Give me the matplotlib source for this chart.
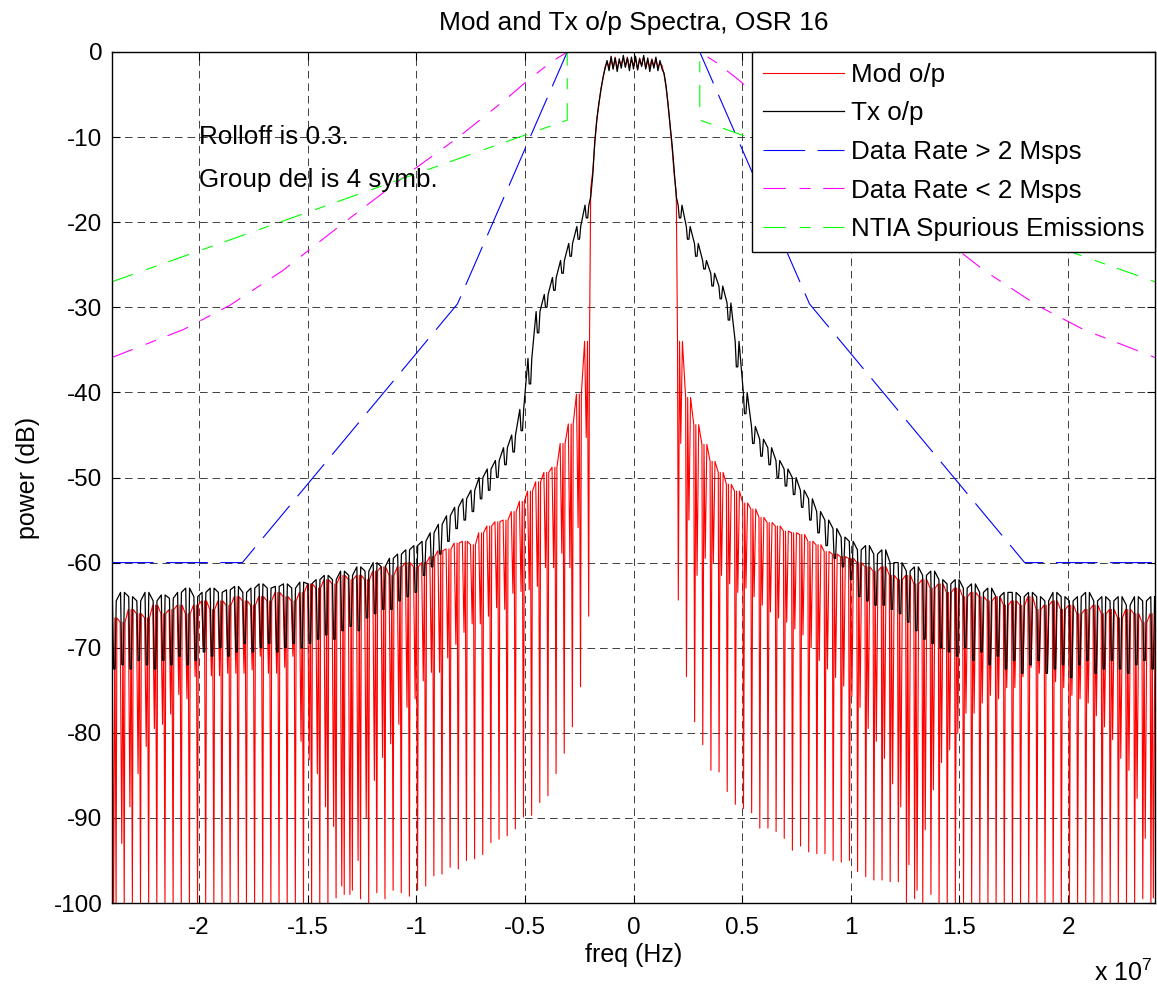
import numpy as np
import matplotlib
matplotlib.use('Agg')
import matplotlib.pyplot as plt

plt.rcParams['font.family'] = 'Liberation Sans'
plt.rcParams['font.size'] = 18.5
plt.rcParams['mathtext.default'] = 'regular'
plt.rcParams['lines.scale_dashes'] = False
plt.rcParams['axes.unicode_minus'] = False

# comb of spectral lines every 375 kHz, centred on (k + 0.5) * spacing
SPACING = 0.375e6
k_left = np.arange(-64, -5)    # -23.81 MHz ... -2.06 MHz
k_right = np.arange(5, 64)     #  2.06 MHz ... 23.81 MHz

# ---- Mod o/p (red), left side, outer -> inner ----
red_peak_left = [-66.5, -67.0, -65.5, -66.0, -66.5, -65.0, -66.0, -65.5, -65.0, -66.0,
                 -65.0, -64.5, -65.5, -64.5, -65.0, -64.0, -64.5, -65.0, -64.0, -64.5,
                 -63.5, -64.0, -64.5, -63.5, -62.5, -63.0, -62.0, -62.5, -61.5, -62.0,
                 -61.5, -62.0, -61.0, -60.5, -61.5, -60.5, -60.0, -60.5,
                 -60.0, -59.3, -58.6, -58.4, -57.7, -57.5, -57.9, -56.5, -55.7, -55.2,
                 -55.0, -54.0, -52.8, -51.6, -50.5, -49.4, -48.8, -46.0, -43.7, -40.2, -34.0]
red_mid_left = [-100.0, -93.0, -88.7, -84.8, -81.6, -79.5, -79.0, -77.8, -75.5, -76.0,
                -73.4, -69.9, -73.3, -73.3, -73.0, -73.0, -73.0, -72.6, -71.0, -73.0,
                -73.0, -72.3, -71.0, -81.0, -83.2, -84.8, -88.7, -91.0, -98.0, -99.0,
                -95.0,
                -90.0, -85.6, -82.9, -81.3, -79.0, -77.0, -76.0, -73.9, -72.9, -72.9,
                -71.2, -69.6, -68.2, -67.2, -67.2, -66.3, -65.3, -65.5, -63.6, -63.4,
                -63.2, -62.8, -60.6, -60.6, -58.9, -60.6, -55.9, -45.3]
red_deep_left = [-100.0, -100.0, -100.0, -100.0, -100.0, -100.0, -100.0, -100.0, -100.0, -100.0,
                 -100.0, -100.0, -100.0, -100.0, -100.0, -100.0, -100.0, -100.0, -100.0, -100.0,
                 -100.0, -100.0, -100.0, -100.0, -100.0, -100.0, -100.0,
                 -99.4, -99.0, -98.5, -99.5,
                 -100.0, -98.8, -99.5, -98.5, -98.8, -99.2, -98.5, -98.0, -96.8, -96.6,
                 -95.8, -96.0, -95.0, -94.8, -94.3, -92.9, -92.5, -92.1, -91.3, -89.9,
                 -89.7, -88.2, -87.4, -84.8, -82.4, -79.3, -74.6, -66.3]

# ---- Mod o/p (red), right side, inner -> outer ----
red_peak_right = [-34.0, -40.6, -43.8, -46.1, -48.1, -49.4, -50.8, -51.6, -53.0, -53.7,
                  -54.7, -55.3, -55.7, -56.3, -56.5, -56.7, -57.5, -57.9, -58.7, -59.0,
                  -59.3, -59.5,
                  -60.0, -60.5, -61.0, -60.5, -61.5, -62.0, -61.5,
                  -62.5, -62.0, -63.0, -62.5, -63.5, -63.0, -64.0, -63.5, -64.0, -64.5,
                  -64.0, -65.0, -64.5, -65.0, -64.0, -65.5, -65.0, -64.5, -65.5, -65.0,
                  -66.0, -65.5, -65.0, -66.0, -65.5, -66.5, -65.5, -66.0, -67.0, -66.0]
red_mid_right = [-46.0, -55.0, -61.5, -59.5, -60.0, -61.5, -62.5, -63.5, -63.0, -64.0,
                 -65.0, -65.8, -66.5, -67.0, -67.8, -68.5, -70.0, -71.5, -72.5, -73.5,
                 -74.5, -75.7, -77.0, -79.5, -81.0, -83.0, -86.0,
                 -88.7, -95.5, -98.5, -91.4, -86.7, -83.5, -82.0, -80.0, -77.7, -77.7,
                 -76.5, -75.6, -76.0, -74.7, -74.7, -73.4, -72.3, -73.0, -72.5, -74.0,
                 -74.7, -75.6, -76.0, -76.5, -78.0, -79.3, -80.8, -83.0, -84.4, -87.7,
                 -92.4, -99.4]
red_deep_right = [-64.4, -73.4, -78.7, -81.4, -84.4, -84.6, -86.9, -88.4, -88.9, -89.4,
                  -91.2, -91.2, -91.6, -92.4, -93.8, -93.3, -94.0, -94.2, -94.2, -95.0,
                  -95.2, -95.0, -96.3, -96.9, -97.3, -97.3, -97.5, -97.5, -100.0,
                  -99.5, -100.0, -99.0, -100.0, -100.0, -100.0, -100.0, -100.0, -100.0, -100.0,
                  -100.0, -100.0, -100.0, -100.0, -100.0, -100.0, -100.0, -100.0, -100.0, -100.0,
                  -100.0, -100.0, -100.0, -100.0, -100.0, -100.0, -100.0, -100.0, -99.5, -100.0]

# ---- Tx o/p (black) ----
black_top_left = [-64.5, -63.5, -64.0, -64.5, -63.5, -64.5, -63.8, -64.2, -63.5, -63.0,
                  -64.0, -63.5, -63.0, -63.5, -63.2, -62.8, -63.5, -63.0, -62.5, -63.0,
                  -62.8, -62.5, -63.0, -62.3, -62.5, -62.0,
                  -61.5, -62.0, -61.0, -61.5, -60.5, -61.0, -60.0, -60.5, -59.5, -59.0, -58.5, -58.0,
                  -57.5, -56.5, -55.5, -54.5, -53.5, -52.5, -51.5, -50.0, -49.0, -48.0,
                  -46.5, -45.0, -42.0, -36.0, -30.5, -28.5, -26.5, -24.5, -22.5, -20.5, -18.0]
black_dip_left = [-72.5, -72.0, -72.5, -71.5, -72.0, -72.5, -71.5, -72.0, -71.0, -72.0,
                  -71.5, -70.5, -71.0, -70.0, -71.0, -70.5, -69.5, -70.5, -70.0, -69.5,
                  -70.5, -70.0, -69.5, -70.0, -69.5, -69.0,
                  -68.5, -69.0, -68.0, -67.5, -68.0, -66.5, -66.0, -65.5, -65.5, -64.5, -64.0, -63.5,
                  -61.5, -60.5, -59.0, -57.5, -56.0, -55.0, -54.0, -52.5, -51.5, -50.0,
                  -48.5, -47.0, -44.5, -39.0, -33.0, -30.0, -28.0, -26.0, -24.0, -22.0, -19.5]
black_top_right = [-18.0, -20.5, -22.5, -24.5, -26.0, -27.5, -29.5, -34.0, -40.0, -44.0,
                   -45.5, -46.5, -48.0, -49.0, -50.0, -51.5, -52.5, -54.0, -55.0, -56.0, -57.0,
                   -57.5, -58.5, -58.0, -59.0, -58.5, -60.0, -60.0, -61.0, -60.5, -61.5, -61.0, -62.0,
                   -62.5, -62.0, -63.0, -62.5, -63.5, -63.0, -64.0, -63.5, -63.5, -64.0,
                   -63.5, -64.0, -64.5, -63.5, -64.0, -64.5, -64.0, -63.5, -64.5, -64.0,
                   -64.5, -64.0, -65.0, -64.0, -64.5, -64.0]
black_dip_right = [-19.5, -22.0, -24.0, -25.5, -27.5, -29.0, -31.5, -37.0, -42.5, -46.0,
                   -47.5, -48.5, -50.0, -51.0, -52.0, -53.5, -55.0, -56.5, -58.0, -59.5, -60.5,
                   -62.0, -64.0, -64.5, -65.0, -65.0, -65.5, -66.0, -67.0, -68.0, -69.0, -69.5, -70.0,
                   -70.5, -71.0, -70.0, -71.5, -70.5, -72.0, -71.0, -72.5, -71.5, -73.0,
                   -72.0, -71.5, -73.0, -72.5, -72.0, -73.5, -72.0, -71.5, -73.0, -72.5,
                   -71.5, -72.5, -73.0, -72.0, -71.5, -72.5]

# passband, 93.75 kHz steps from -1.97 MHz to +1.97 MHz
pass_black = [-17.0, -14.5, -10.5, -8.0, -6.0, -4.5, -3.0, -2.0, -1.0, -2.2,
              -0.5, -2.0, -0.7, -2.3, -0.8, -1.9, -0.4, -1.8, -0.7, -2.2,
              -0.6, -2.0, -0.5, -2.1, -0.8, -1.7, -0.4, -2.0, -0.7, -2.3,
              -0.9, -1.9, -0.6, -2.2, -1.0, -2.0, -2.5, -4.0, -6.3, -8.5,
              -11.0, -14.0, -17.0]
pass_red = [-16.0, -14.0, -10.8, -7.8, -6.2, -4.3, -3.2, -1.8, -1.2, -1.7,
            -0.8, -2.0, -0.6, -1.9, -1.1, -1.4, -0.7, -1.7, -0.6, -1.8,
            -0.9, -1.5, -0.8, -2.1, -0.7, -1.6, -0.6, -1.9, -1.0, -1.8,
            -0.8, -1.7, -0.9, -1.8, -1.3, -1.6, -2.6, -4.2, -6.1, -8.8,
            -11.5, -14.5, -16.5]

# spectral masks, one-sided (MHz, dB), mirrored about 0
mask_hi_f = [0.0, 3.05, 8.1, 18.0, 24.0]
mask_hi_db = [0.0, 0.0, -29.6, -60.0, -60.0]
mask_lo_f = [0.0, 3.05, 3.8, 4.8, 5.9, 8.05, 10.0, 13.3, 14.8, 16.15, 18.6, 20.7, 23.7, 24.0]
mask_lo_db = [0.0, 0.0, -1.2, -3.2, -5.6, -10.0, -13.6, -20.0, -23.0, -25.7, -29.8, -32.6, -35.6, -35.9]
ntia_f = [0.0, 3.05, 3.05, 24.0]
ntia_db = [0.0, 0.0, -8.0, -27.0]

xtick_vals = [-2e7, -1.5e7, -1e7, -0.5e7, 0, 0.5e7, 1e7, 1.5e7, 2e7]
xtick_labels = ['-2', '-1.5', '-1', '-0.5', '0', '0.5', '1', '1.5', '2']
ytick_vals = list(range(-100, 1, 10))


def red_trace():
    xs, ys = [], []
    s = SPACING
    for k, p, m, d in zip(k_left, red_peak_left, red_mid_left, red_deep_left):
        f = (k + 0.5) * s
        xs += [f - 0.5 * s, f - 0.3 * s, f - 0.15 * s, f, f + 0.1 * s]
        ys += [p, m, p, d, p]
    fp = np.arange(-21, 22) * s / 4
    xs += list(fp)
    ys += pass_red
    for k, p, m, d in zip(k_right, red_peak_right, red_mid_right, red_deep_right):
        f = (k + 0.5) * s
        xs += [f - 0.1 * s, f, f + 0.15 * s, f + 0.3 * s, f + 0.5 * s]
        ys += [p, d, p, m, p]
    return np.array(xs), np.array(ys)


def black_trace():
    xs, ys = [], []
    s = SPACING
    for k, t, d in zip(k_left, black_top_left, black_dip_left):
        f = (k + 0.5) * s
        xs += [f - 0.45 * s, f - 0.3 * s, f - 0.12 * s, f + 0.02 * s]
        ys += [t, d, d, t]
    fp = np.arange(-21, 22) * s / 4
    xs += list(fp)
    ys += pass_black
    for k, t, d in zip(k_right, black_top_right, black_dip_right):
        f = (k + 0.5) * s
        xs += [f - 0.02 * s, f + 0.12 * s, f + 0.3 * s, f + 0.45 * s]
        ys += [t, d, d, t]
    return np.array(xs), np.array(ys)


def mirror(f_mhz, db):
    f = np.array(f_mhz) * 1e6
    db = np.array(db)
    return np.concatenate([-f[::-1], f[1:]]), np.concatenate([db[::-1], db[1:]])


fig = plt.figure(figsize=(11.57, 9.84), dpi=100)
ax = fig.add_axes([112 / 1157, 1 - 903 / 984, (1155 - 112) / 1157, (903 - 52) / 984])

rx, ry = red_trace()
bx, by = black_trace()
ax.plot(rx, ry, color='#ff0000', lw=0.8, label='Mod o/p')
ax.plot(bx, by, color='black', lw=0.9, label='Tx o/p')

dash_hi = (0, (30, 9))
dash_lo = (0, (16, 10, 8, 9))
x, y = mirror(mask_hi_f, mask_hi_db)
ax.plot(x, y, color='#0000ff', lw=0.8, linestyle=dash_hi, label='Data Rate > 2 Msps')
x, y = mirror(mask_lo_f, mask_lo_db)
ax.plot(x, y, color='#ff00ff', lw=0.8, linestyle=dash_lo, label='Data Rate < 2 Msps')
x, y = mirror(ntia_f, ntia_db)
ax.plot(x, y, color='#00ff00', lw=0.8, linestyle=dash_lo, label='NTIA Spurious Emissions')

ax.set_xlim(-2.4e7, 2.4e7)
ax.set_ylim(-100, 0)
ax.set_xticks(xtick_vals)
ax.set_xticklabels(xtick_labels)
ax.set_yticks(ytick_vals)
ax.tick_params(direction='in', top=True, right=True, length=6, width=0.8, labelsize=17.5)
ax.tick_params(axis='x', pad=10)
ax.tick_params(axis='y', pad=7)
ax.grid(True, color='#404040', lw=0.7, linestyle=(0, (5.5, 3.5)))
for sp in ax.spines.values():
    sp.set_linewidth(1.0)

ax.set_title('Mod and Tx o/p Spectra, OSR 16', fontsize=19, pad=16)
ax.set_xlabel('freq (Hz)', fontsize=18, labelpad=3)
ax.set_ylabel('power (dB)', fontsize=18, labelpad=10)
fig.text(1094 / 1157, 1 - 981 / 984, 'x 10$^{7}$', fontsize=18, va='baseline')

ax.text(-2e7, -10, 'Rolloff is 0.3.', va='center', ha='left', fontsize=18.7)
ax.text(-2e7, -15, 'Group del is 4 symb.', va='center', ha='left', fontsize=18.7)

leg = ax.legend(loc='upper right', borderaxespad=0, fancybox=False, framealpha=1,
                edgecolor='black', handlelength=3.1, handletextpad=0.27,
                labelspacing=0.56, borderpad=0.42, fontsize=18.7)
leg.get_frame().set_linewidth(1.0)

fig.savefig('out.png', dpi=100)
